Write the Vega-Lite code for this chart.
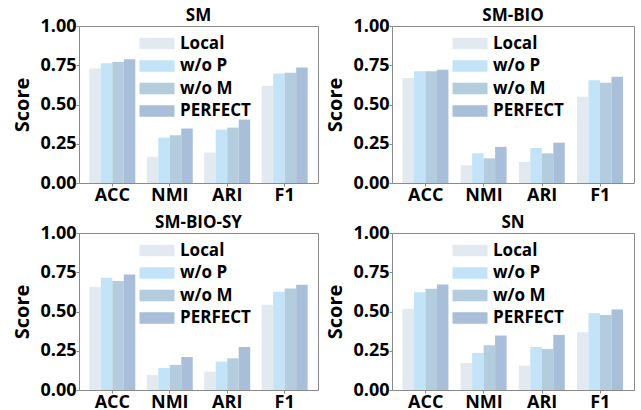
{
  "$schema": "https://vega.github.io/schema/vega-lite/v6.json",
  "padding": {"top": 6, "left": 12, "right": 5, "bottom": 5},
  "datasets": {
    "scores": [
      {"panel": "SM", "metric": "ACC", "method": "Local", "score": 0.730},
      {"panel": "SM", "metric": "ACC", "method": "w/o P", "score": 0.762},
      {"panel": "SM", "metric": "ACC", "method": "w/o M", "score": 0.770},
      {"panel": "SM", "metric": "ACC", "method": "PERFECT", "score": 0.789},
      {"panel": "SM", "metric": "NMI", "method": "Local", "score": 0.166},
      {"panel": "SM", "metric": "NMI", "method": "w/o P", "score": 0.289},
      {"panel": "SM", "metric": "NMI", "method": "w/o M", "score": 0.304},
      {"panel": "SM", "metric": "NMI", "method": "PERFECT", "score": 0.347},
      {"panel": "SM", "metric": "ARI", "method": "Local", "score": 0.194},
      {"panel": "SM", "metric": "ARI", "method": "w/o P", "score": 0.340},
      {"panel": "SM", "metric": "ARI", "method": "w/o M", "score": 0.353},
      {"panel": "SM", "metric": "ARI", "method": "PERFECT", "score": 0.404},
      {"panel": "SM", "metric": "F1", "method": "Local", "score": 0.619},
      {"panel": "SM", "metric": "F1", "method": "w/o P", "score": 0.698},
      {"panel": "SM", "metric": "F1", "method": "w/o M", "score": 0.702},
      {"panel": "SM", "metric": "F1", "method": "PERFECT", "score": 0.736},
      {"panel": "SM-BIO", "metric": "ACC", "method": "Local", "score": 0.668},
      {"panel": "SM-BIO", "metric": "ACC", "method": "w/o P", "score": 0.711},
      {"panel": "SM-BIO", "metric": "ACC", "method": "w/o M", "score": 0.711},
      {"panel": "SM-BIO", "metric": "ACC", "method": "PERFECT", "score": 0.721},
      {"panel": "SM-BIO", "metric": "NMI", "method": "Local", "score": 0.113},
      {"panel": "SM-BIO", "metric": "NMI", "method": "w/o P", "score": 0.189},
      {"panel": "SM-BIO", "metric": "NMI", "method": "w/o M", "score": 0.157},
      {"panel": "SM-BIO", "metric": "NMI", "method": "PERFECT", "score": 0.230},
      {"panel": "SM-BIO", "metric": "ARI", "method": "Local", "score": 0.134},
      {"panel": "SM-BIO", "metric": "ARI", "method": "w/o P", "score": 0.223},
      {"panel": "SM-BIO", "metric": "ARI", "method": "w/o M", "score": 0.189},
      {"panel": "SM-BIO", "metric": "ARI", "method": "PERFECT", "score": 0.257},
      {"panel": "SM-BIO", "metric": "F1", "method": "Local", "score": 0.549},
      {"panel": "SM-BIO", "metric": "F1", "method": "w/o P", "score": 0.655},
      {"panel": "SM-BIO", "metric": "F1", "method": "w/o M", "score": 0.638},
      {"panel": "SM-BIO", "metric": "F1", "method": "PERFECT", "score": 0.677},
      {"panel": "SM-BIO-SY", "metric": "ACC", "method": "Local", "score": 0.657},
      {"panel": "SM-BIO-SY", "metric": "ACC", "method": "w/o P", "score": 0.715},
      {"panel": "SM-BIO-SY", "metric": "ACC", "method": "w/o M", "score": 0.694},
      {"panel": "SM-BIO-SY", "metric": "ACC", "method": "PERFECT", "score": 0.736},
      {"panel": "SM-BIO-SY", "metric": "NMI", "method": "Local", "score": 0.096},
      {"panel": "SM-BIO-SY", "metric": "NMI", "method": "w/o P", "score": 0.140},
      {"panel": "SM-BIO-SY", "metric": "NMI", "method": "w/o M", "score": 0.160},
      {"panel": "SM-BIO-SY", "metric": "NMI", "method": "PERFECT", "score": 0.210},
      {"panel": "SM-BIO-SY", "metric": "ARI", "method": "Local", "score": 0.117},
      {"panel": "SM-BIO-SY", "metric": "ARI", "method": "w/o P", "score": 0.181},
      {"panel": "SM-BIO-SY", "metric": "ARI", "method": "w/o M", "score": 0.202},
      {"panel": "SM-BIO-SY", "metric": "ARI", "method": "PERFECT", "score": 0.274},
      {"panel": "SM-BIO-SY", "metric": "F1", "method": "Local", "score": 0.543},
      {"panel": "SM-BIO-SY", "metric": "F1", "method": "w/o P", "score": 0.626},
      {"panel": "SM-BIO-SY", "metric": "F1", "method": "w/o M", "score": 0.647},
      {"panel": "SM-BIO-SY", "metric": "F1", "method": "PERFECT", "score": 0.670},
      {"panel": "SN", "metric": "ACC", "method": "Local", "score": 0.517},
      {"panel": "SN", "metric": "ACC", "method": "w/o P", "score": 0.623},
      {"panel": "SN", "metric": "ACC", "method": "w/o M", "score": 0.645},
      {"panel": "SN", "metric": "ACC", "method": "PERFECT", "score": 0.672},
      {"panel": "SN", "metric": "NMI", "method": "Local", "score": 0.172},
      {"panel": "SN", "metric": "NMI", "method": "w/o P", "score": 0.236},
      {"panel": "SN", "metric": "NMI", "method": "w/o M", "score": 0.285},
      {"panel": "SN", "metric": "NMI", "method": "PERFECT", "score": 0.347},
      {"panel": "SN", "metric": "ARI", "method": "Local", "score": 0.155},
      {"panel": "SN", "metric": "ARI", "method": "w/o P", "score": 0.274},
      {"panel": "SN", "metric": "ARI", "method": "w/o M", "score": 0.262},
      {"panel": "SN", "metric": "ARI", "method": "PERFECT", "score": 0.351},
      {"panel": "SN", "metric": "F1", "method": "Local", "score": 0.368},
      {"panel": "SN", "metric": "F1", "method": "w/o P", "score": 0.489},
      {"panel": "SN", "metric": "F1", "method": "w/o M", "score": 0.477},
      {"panel": "SN", "metric": "F1", "method": "PERFECT", "score": 0.513}
    ]
  },
  "data": {"name": "scores"},
  "columns": 2,
  "spacing": {"row": 8, "column": 6},
  "resolve": {"legend": {"color": "independent"}},
  "concat": [
    {
      "width": 239, "height": 157,
      "title": "SM",
      "transform": [{"filter": {"field": "panel", "equal": "SM"}}],
      "mark": "bar",
      "encoding": {
        "x": {"field": "metric", "type": "nominal", "sort": ["ACC", "NMI", "ARI", "F1"], "scale": {"paddingInner": 0.2, "paddingOuter": 0.18}, "axis": {"title": null, "labelAngle": 0}},
        "xOffset": {"field": "method", "type": "nominal", "sort": ["Local", "w/o P", "w/o M", "PERFECT"], "scale": {"paddingInner": 0, "paddingOuter": 0}},
        "y": {"field": "score", "type": "quantitative", "scale": {"domain": [0, 1], "nice": false}, "axis": {"title": "Score", "values": [0, 0.25, 0.5, 0.75, 1], "format": ".2f"}},
        "color": {"field": "method", "type": "nominal", "sort": ["Local", "w/o P", "w/o M", "PERFECT"], "scale": {"domain": ["Local", "w/o P", "w/o M", "PERFECT"], "range": ["#E2E9F1", "#C2E3F8", "#B3CDDE", "#A9BED8"]}}
      }
    },
    {
      "width": 242, "height": 157,
      "title": "SM-BIO",
      "transform": [{"filter": {"field": "panel", "equal": "SM-BIO"}}],
      "mark": "bar",
      "encoding": {
        "x": {"field": "metric", "type": "nominal", "sort": ["ACC", "NMI", "ARI", "F1"], "scale": {"paddingInner": 0.2, "paddingOuter": 0.18}, "axis": {"title": null, "labelAngle": 0}},
        "xOffset": {"field": "method", "type": "nominal", "sort": ["Local", "w/o P", "w/o M", "PERFECT"], "scale": {"paddingInner": 0, "paddingOuter": 0}},
        "y": {"field": "score", "type": "quantitative", "scale": {"domain": [0, 1], "nice": false}, "axis": {"title": "Score", "values": [0, 0.25, 0.5, 0.75, 1], "format": ".2f"}},
        "color": {"field": "method", "type": "nominal", "sort": ["Local", "w/o P", "w/o M", "PERFECT"], "scale": {"domain": ["Local", "w/o P", "w/o M", "PERFECT"], "range": ["#E2E9F1", "#C2E3F8", "#B3CDDE", "#A9BED8"]}}
      }
    },
    {
      "width": 239, "height": 157,
      "title": "SM-BIO-SY",
      "transform": [{"filter": {"field": "panel", "equal": "SM-BIO-SY"}}],
      "mark": "bar",
      "encoding": {
        "x": {"field": "metric", "type": "nominal", "sort": ["ACC", "NMI", "ARI", "F1"], "scale": {"paddingInner": 0.2, "paddingOuter": 0.18}, "axis": {"title": null, "labelAngle": 0}},
        "xOffset": {"field": "method", "type": "nominal", "sort": ["Local", "w/o P", "w/o M", "PERFECT"], "scale": {"paddingInner": 0, "paddingOuter": 0}},
        "y": {"field": "score", "type": "quantitative", "scale": {"domain": [0, 1], "nice": false}, "axis": {"title": "Score", "values": [0, 0.25, 0.5, 0.75, 1], "format": ".2f"}},
        "color": {"field": "method", "type": "nominal", "sort": ["Local", "w/o P", "w/o M", "PERFECT"], "scale": {"domain": ["Local", "w/o P", "w/o M", "PERFECT"], "range": ["#E2E9F1", "#C2E3F8", "#B3CDDE", "#A9BED8"]}}
      }
    },
    {
      "width": 242, "height": 157,
      "title": "SN",
      "transform": [{"filter": {"field": "panel", "equal": "SN"}}],
      "mark": "bar",
      "encoding": {
        "x": {"field": "metric", "type": "nominal", "sort": ["ACC", "NMI", "ARI", "F1"], "scale": {"paddingInner": 0.2, "paddingOuter": 0.18}, "axis": {"title": null, "labelAngle": 0}},
        "xOffset": {"field": "method", "type": "nominal", "sort": ["Local", "w/o P", "w/o M", "PERFECT"], "scale": {"paddingInner": 0, "paddingOuter": 0}},
        "y": {"field": "score", "type": "quantitative", "scale": {"domain": [0, 1], "nice": false}, "axis": {"title": "Score", "values": [0, 0.25, 0.5, 0.75, 1], "format": ".2f"}},
        "color": {"field": "method", "type": "nominal", "sort": ["Local", "w/o P", "w/o M", "PERFECT"], "scale": {"domain": ["Local", "w/o P", "w/o M", "PERFECT"], "range": ["#E2E9F1", "#C2E3F8", "#B3CDDE", "#A9BED8"]}}
      }
    }
  ],
  "config": {
    "background": "white",
    "font": "Open Sans",
    "view": {"stroke": "#8a8a8a", "strokeWidth": 1},
    "bar": {"stroke": null},
    "axis": {
      "domain": false, "grid": false,
      "labelFont": "Open Sans", "labelFontWeight": "bold", "labelFontSize": 18, "labelColor": "#000000", "labelPadding": 0,
      "titleFont": "Open Sans", "titleFontWeight": "bold", "titleFontSize": 20, "titleColor": "#000000", "titlePadding": 7,
      "tickColor": "#8a8a8a", "tickSize": 3
    },
    "title": {"font": "Open Sans", "fontSize": 17, "fontWeight": "bold", "color": "#000000", "offset": -8},
    "legend": {
      "orient": "none", "legendX": 57, "legendY": 9, "title": null, "padding": 0,
      "labelFont": "Open Sans", "labelFontWeight": "bold", "labelFontSize": 17, "labelColor": "#000000", "labelOffset": 27,
      "symbolType": "M-1,-1.13L6,-1.13L6,1.13L-1,1.13Z", "symbolSize": 100, "symbolStrokeWidth": 0, "symbolOpacity": 1,
      "rowPadding": 4.5
    }
  }
}
